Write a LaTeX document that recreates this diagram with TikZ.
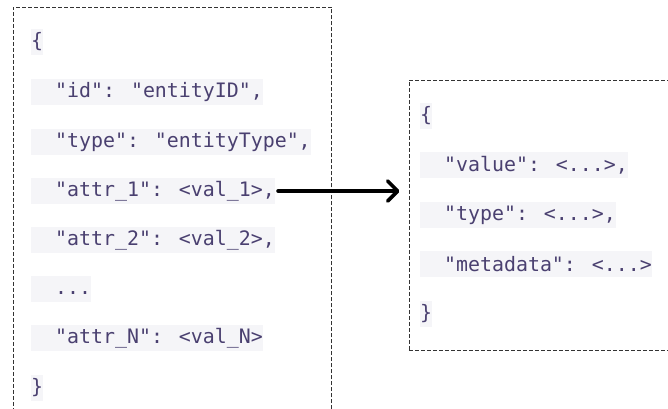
\documentclass[tikz,border=0pt]{standalone}
\usepackage{fontspec}
\newfontfamily\codefont{DejaVu Sans Mono}
\usetikzlibrary{arrows.meta}
\definecolor{codetext}{HTML}{4A4070}
\definecolor{codebg}{HTML}{F5F5F8}
\definecolor{boxline}{HTML}{333333}
\tikzset{
  codeline/.style={anchor=west, inner sep=0pt, fill=codebg, text=codetext,
    minimum height=26pt, font=\codefont\fontsize{19.9pt}{22pt}\selectfont},
  jsonbox/.style={draw=boxline, line width=0.9pt, dash pattern=on 4pt off 2pt,
    anchor=north west, inner sep=0pt},
  conn/.style={line width=3.6pt, line cap=round, -{Straight Barb[length=10pt,width=20pt,line width=3.6pt,round]}}
}
\newcommand{\ind}{\phantom{aa}}
\begin{document}
\begin{tikzpicture}[x=1pt,y=-1pt]
\useasboundingbox (0,0) rectangle (668,408);
\begin{scope}
\clip (0,0) rectangle (668,408);
% boxes
\node[jsonbox, minimum width=318.5pt, minimum height=420pt] (lbox) at (12.5,6.5) {};
\node[jsonbox, minimum width=290pt, minimum height=270pt] (rbox) at (408.5,79.5) {};
% left lines
\node[codeline] (l0) at (31,42) {\{};
\node[codeline] (l1) at (31,92) {\ind"id": "entityID",};
\node[codeline] (l2) at (31,142) {\ind"type": "entityType",};
\node[codeline] (l3) at (31,191) {\ind"attr\_1": <val\_1>,};
\node[codeline] (l4) at (31,240) {\ind"attr\_2": <val\_2>,};
\node[codeline] (l5) at (31,289) {\ind...};
\node[codeline] (l6) at (31,338) {\ind"attr\_N": <val\_N>};
\node[codeline] (l7) at (31,388) {\}};
% right lines
\node[codeline] (r0) at (420,116) {\{};
\node[codeline] (r1) at (420,165) {\ind"value": <...>,};
\node[codeline] (r2) at (420,215) {\ind"type": <...>,};
\node[codeline] (r3) at (420,264) {\ind"metadata": <...>};
\node[codeline] (r4) at (420,314) {\}};
\end{scope}
\draw[conn] ([xshift=3pt]l3.east) -- ([xshift=-9pt]l3.east -| rbox.west);
\end{tikzpicture}
\end{document}
